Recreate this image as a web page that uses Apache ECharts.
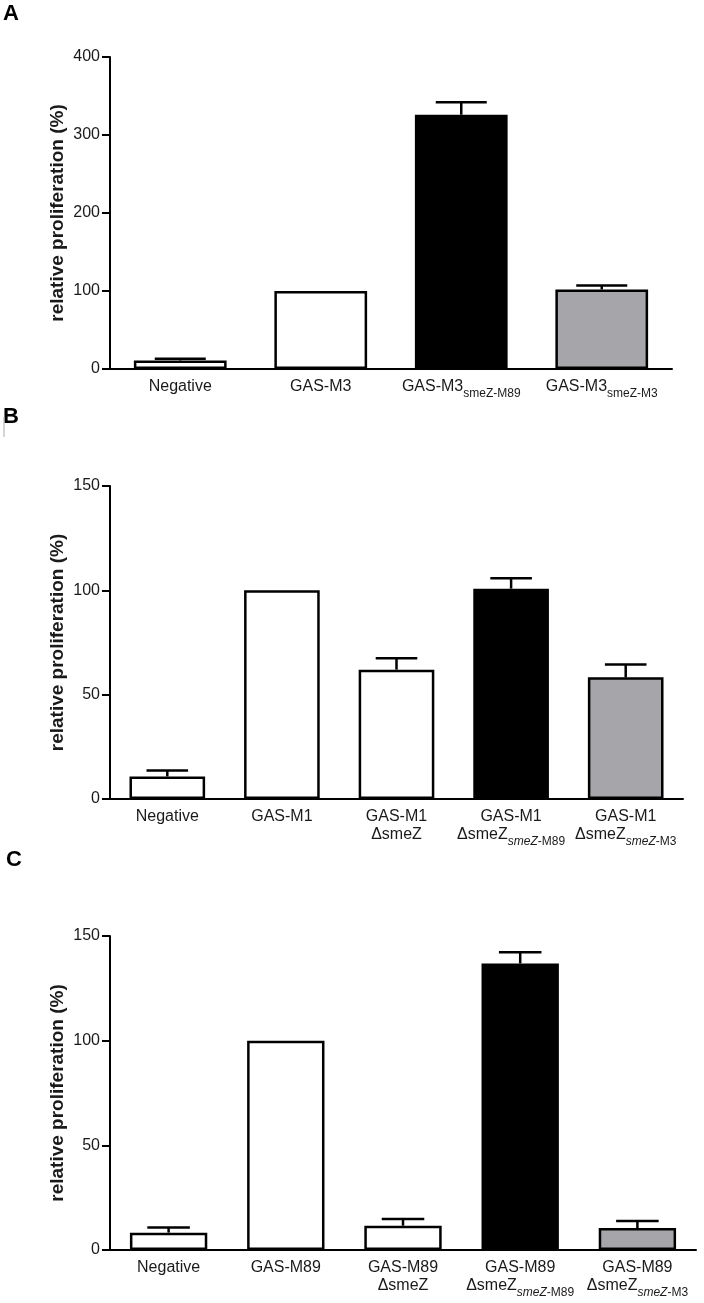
<!DOCTYPE html>
<html><head><meta charset="utf-8">
<script src="https://cdn.jsdelivr.net/npm/echarts@6/dist/echarts.min.js"></script>
<style>html,body{margin:0;padding:0;background:#fff}#c{width:704px;height:1303px}</style>
</head><body><div id="c"></div>
<script>
// ---- Panel A ----
const catsA = ['Negative', 'GAS-M3', 'GAS-M3 smeZ-M89', 'GAS-M3 smeZ-M3'];
const labelsA = ['{m|Negative}', '{m|GAS-M3}', '{m|GAS-M3}{s|smeZ-M89}', '{m|GAS-M3}{s|smeZ-M3}'];
const meanA = [11, 100, 326, 102];
const errA = [13, 100, 342, 107];
const ticksA = [0, 100, 200, 300, 400];
// ---- Panel B ----
const catsB = ['Negative', 'GAS-M1', 'GAS-M1 ΔsmeZ', 'GAS-M1 ΔsmeZ smeZ-M89', 'GAS-M1 ΔsmeZ smeZ-M3'];
const labelsB = ['{m|Negative}', '{m|GAS-M1}', '{m|GAS-M1}\n{m|ΔsmeZ}', '{m|GAS-M1}\n{m|ΔsmeZ}{i|smeZ}{s|-M89}', '{m|GAS-M1}\n{m|ΔsmeZ}{i|smeZ}{s|-M3}'];
const meanB = [10.8, 100, 62, 100.8, 58.3];
const errB = [13.7, 100, 67.5, 105.8, 64.4];
const ticksB = [0, 50, 100, 150];
// ---- Panel C ----
const catsC = ['Negative', 'GAS-M89', 'GAS-M89 ΔsmeZ', 'GAS-M89 ΔsmeZ smeZ-M89', 'GAS-M89 ΔsmeZ smeZ-M3'];
const labelsC = ['{m|Negative}', '{m|GAS-M89}', '{m|GAS-M89}\n{m|ΔsmeZ}', '{m|GAS-M89}\n{m|ΔsmeZ}{i|smeZ}{s|-M89}', '{m|GAS-M89}\n{m|ΔsmeZ}{i|smeZ}{s|-M3}'];
const meanC = [8.3, 100, 11.6, 136.9, 10.5];
const errC = [10.8, 100, 14.8, 142.2, 13.9];
const ticksC = [0, 50, 100, 150];

const yName = 'relative proliferation (%)';

// styles (kept apart from data)
const fillA = ['#ffffff', '#ffffff', '#000000', '#a6a5aa'];
const fillB = ['#ffffff', '#ffffff', '#ffffff', '#000000', '#a6a5aa'];
const fillC = ['#ffffff', '#ffffff', '#ffffff', '#000000', '#a6a5aa'];

const FONT = "'Liberation Sans', Arial, sans-serif";
const BARW = 0.66;

const rich = {
  m: { fontSize: 16, fontFamily: FONT, color: '#1a1a1a', verticalAlign: 'top', lineHeight: 18 },
  s: { fontSize: 12, fontFamily: FONT, color: '#1a1a1a', verticalAlign: 'top', padding: [9, 0, 0, 0], lineHeight: 13 },
  i: { fontSize: 12, fontFamily: FONT, fontStyle: 'italic', color: '#1a1a1a', verticalAlign: 'top', padding: [9, 0, 0, 0], lineHeight: 13 }
};

function xAxis(gi, cats, labels) {
  return {
    type: 'category', gridIndex: gi, data: cats,
    axisLine: { lineStyle: { color: '#000', width: 2 } },
    axisTick: { alignWithLabel: true, length: 8, lineStyle: { color: '#000', width: 2 } },
    axisLabel: { interval: 0, margin: 10, formatter: (v, idx) => labels[idx], rich: rich, lineHeight: 18 }
  };
}
function yAxis(gi, ticks) {
  return {
    type: 'value', gridIndex: gi, min: ticks[0], max: ticks[ticks.length - 1], interval: ticks[1] - ticks[0],
    name: yName, nameLocation: 'middle', nameGap: 43, nameMoveOverlap: false,
    nameTextStyle: { fontSize: 19, fontWeight: 'bold', fontFamily: FONT, color: '#1a1a1a' },
    axisLine: { show: true, lineStyle: { color: '#000', width: 2 } },
    axisTick: { show: true, length: 8, lineStyle: { color: '#000', width: 2 } },
    splitLine: { show: false },
    axisLabel: { fontSize: 16, fontFamily: FONT, color: '#1a1a1a', margin: 10 }
  };
}
function bars(gi, mean, fills) {
  return {
    type: 'bar', xAxisIndex: gi, yAxisIndex: gi, barWidth: (BARW * 100) + '%',
    data: mean.map((v, i) => ({ value: v, itemStyle: { color: fills[i] } })),
    itemStyle: { borderColor: '#000', borderWidth: 2.5 },
    silent: true, animation: false, z: 2
  };
}
function errs(gi, mean, err) {
  return {
    type: 'custom', xAxisIndex: gi, yAxisIndex: gi, z: 3, silent: true, animation: false,
    data: mean.map((v, i) => [i, v, err[i]]),
    renderItem: function (params, api) {
      const i = api.value(0), v = api.value(1), e = api.value(2);
      if (e <= v) return null;
      const p0 = api.coord([i, v]);
      const p1 = api.coord([i, e]);
      const hw = api.size([1, 0])[0] * BARW * 0.55 / 2;
      const st = { stroke: '#000', lineWidth: 2.5 };
      return {
        type: 'group', children: [
          { type: 'line', shape: { x1: p0[0], y1: p0[1], x2: p1[0], y2: p1[1] }, style: st },
          { type: 'line', shape: { x1: p1[0] - hw, y1: p1[1], x2: p1[0] + hw, y2: p1[1] }, style: st }
        ]
      };
    }
  };
}

const chart = echarts.init(document.getElementById('c'), null, { renderer: 'canvas' });
chart.setOption({
  backgroundColor: '#fff',
  animation: false,
  grid: [
    { left: 110, top: 57, width: 562, height: 312 },
    { left: 110, top: 486, width: 573, height: 313 },
    { left: 110, top: 936, width: 586, height: 314 }
  ],
  xAxis: [xAxis(0, catsA, labelsA), xAxis(1, catsB, labelsB), xAxis(2, catsC, labelsC)],
  yAxis: [yAxis(0, ticksA), yAxis(1, ticksB), yAxis(2, ticksC)],
  series: [
    bars(0, meanA, fillA), errs(0, meanA, errA),
    bars(1, meanB, fillB), errs(1, meanB, errB),
    bars(2, meanC, fillC), errs(2, meanC, errC)
  ],
  graphic: [
    { type: 'text', left: 3, top: 3, style: { text: 'A', font: 'bold 22px ' + FONT, fill: '#000' } },
    { type: 'text', left: 3, top: 406, style: { text: 'B', font: 'bold 22px ' + FONT, fill: '#000' } },
    { type: 'text', left: 6, top: 849, style: { text: 'C', font: 'bold 22px ' + FONT, fill: '#000' } },
    { type: 'line', shape: { x1: 4, y1: 417, x2: 4, y2: 437 }, style: { stroke: '#aaa', lineWidth: 1 } }
  ]
});
</script>
</body></html>
